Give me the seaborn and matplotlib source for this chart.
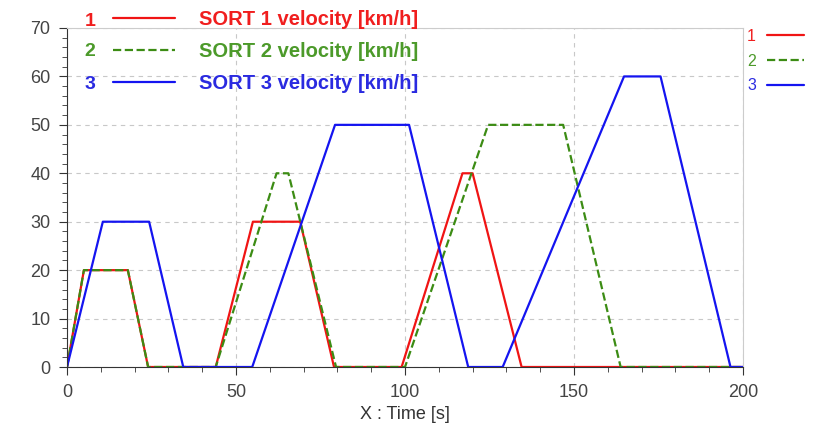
import pandas as pd
import seaborn as sns
import matplotlib.pyplot as plt
from matplotlib.ticker import MultipleLocator

# Breakpoints of the three velocity profiles
t1 = [0, 5, 18, 24, 44, 55, 69, 79, 99, 117, 120, 134.5, 200]
v1 = [0, 20, 20, 0, 0, 30, 30, 0, 0, 40, 40, 0, 0]
t2 = [0, 5, 18, 24, 44, 62, 65.5, 79.6, 100, 124.6, 146.8, 163.8, 200]
v2 = [0, 20, 20, 0, 0, 40, 40, 0, 0, 50, 50, 0, 0]
t3 = [0, 10.6, 24.3, 34.4, 54.8, 79.3, 101.2, 118.7, 128.9, 164.8, 175.6, 196.3, 200]
v3 = [0, 30, 30, 0, 0, 50, 50, 0, 0, 60, 60, 0, 0]

names = ["SORT 1 velocity [km/h]", "SORT 2 velocity [km/h]", "SORT 3 velocity [km/h]"]
numbers = ["1", "2", "3"]
line_colors = ["#f01414", "#3c8c14", "#1414f0"]
text_colors = ["#f01e1e", "#4c9a2a", "#2a2ae0"]
styles = ["-", "--", "-"]

df = pd.concat([
    pd.DataFrame({"t": t, "v": v, "series": n})
    for t, v, n in zip([t1, t2, t3], [v1, v2, v3], names)
])

sns.set_style("white")
plt.rcParams['font.family'] = ['Liberation Sans', 'DejaVu Sans']

fig = plt.figure(figsize=(8.24, 4.23), dpi=100)
ax = fig.add_axes([67/824, 56/423, 676/824, 339/423])

handles = []
for n, c, ls in zip(names, line_colors, styles):
    sub = df[df["series"] == n]
    sns.lineplot(data=sub, x="t", y="v", ax=ax, color=c, linestyle=ls,
                 linewidth=1.6, estimator=None, sort=False)
    handles.append(ax.lines[-1])

ax.set_xlim(0, 200)
ax.set_ylim(0, 70)
ax.xaxis.set_major_locator(MultipleLocator(50))
ax.xaxis.set_minor_locator(MultipleLocator(10))
ax.yaxis.set_major_locator(MultipleLocator(10))
ax.yaxis.set_minor_locator(MultipleLocator(2))
ax.tick_params(which="both", direction="out", color="#333333", left=True, bottom=True)
ax.tick_params(which="major", length=6, pad=6, labelsize=13, labelcolor="#444444")
ax.tick_params(which="minor", length=3.5)
ax.grid(True, which="major", linestyle=(0, (4, 4)), color="#c8c8c8", linewidth=0.8)
ax.set_xlabel("X : Time [s]", fontsize=13, color="#333333", labelpad=4)
ax.set_ylabel("")

for side in ["left", "bottom"]:
    ax.spines[side].set_color("#333333")
for side in ["top", "right"]:
    ax.spines[side].set_color("#cccccc")

# top-left legend: number, line, bold label
leg = ax.legend(handles, names, loc="upper left", bbox_to_anchor=(113/824, 1 - 10/423),
                bbox_transform=fig.transFigure, frameon=False, fontsize=14.5,
                handlelength=3.08, handletextpad=1.2, labelspacing=0.65,
                borderpad=0, borderaxespad=0)
for txt, c in zip(leg.get_texts(), text_colors):
    txt.set_color(c)
    txt.set_fontweight("bold")
ax.add_artist(leg)

for i, (num, c) in enumerate(zip(numbers, text_colors)):
    fig.text(90/824, 1 - [21, 52, 84][i]/423, num, color=c, fontsize=14,
             fontweight="bold", ha="center", va="center")

# right-side legend: numbers and line samples only
leg2 = ax.legend(handles, numbers, loc="upper left", bbox_to_anchor=(747/824, 1 - 29/423),
                 bbox_transform=fig.transFigure, frameon=False, fontsize=11.5,
                 handlelength=2.3, handletextpad=0.7, labelspacing=0.6,
                 borderpad=0, borderaxespad=0, markerfirst=False)
for txt, c in zip(leg2.get_texts(), text_colors):
    txt.set_color(c)

fig.savefig("out.png", dpi=100)
